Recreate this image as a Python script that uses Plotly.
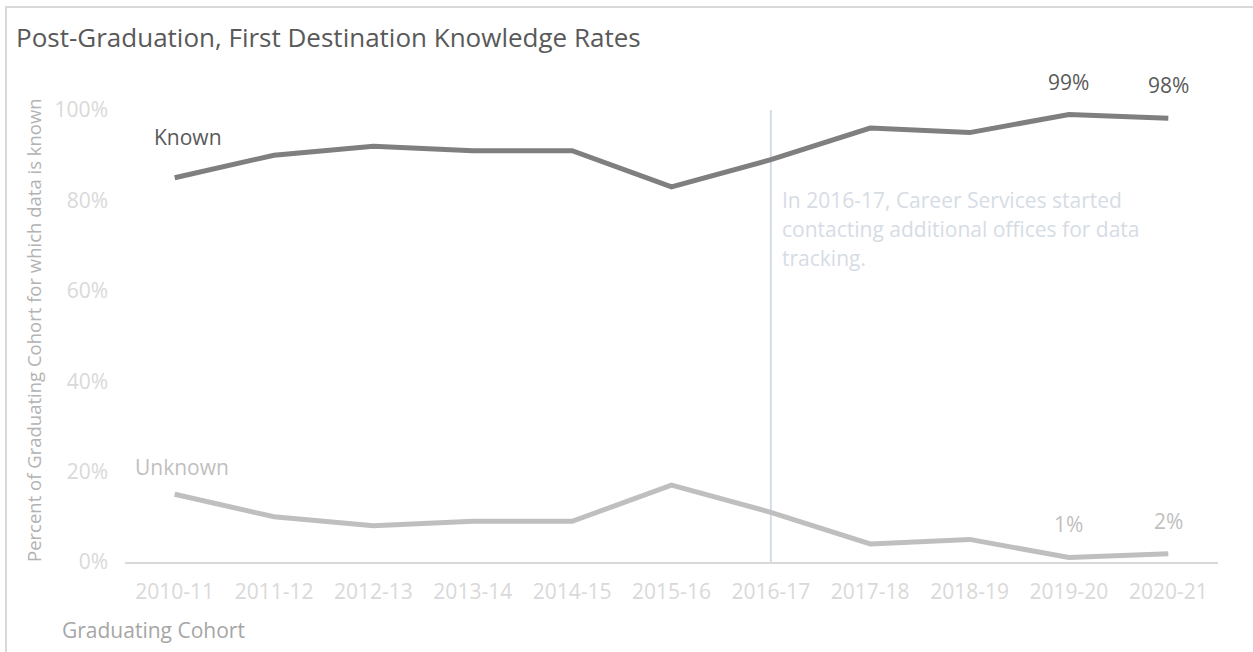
import plotly.graph_objects as go

categories = ["2010-11", "2011-12", "2012-13", "2013-14", "2014-15", "2015-16",
              "2016-17", "2017-18", "2018-19", "2019-20", "2020-21"]
known = [0.85, 0.90, 0.92, 0.91, 0.91, 0.83, 0.89, 0.96, 0.95, 0.99, 0.982]
unknown = [0.15, 0.10, 0.08, 0.09, 0.09, 0.17, 0.11, 0.04, 0.05, 0.01, 0.018]
labelled_points = [9, 10]
note_category = "2016-17"
note_lines = ["In 2016-17, Career Services started",
              "contacting additional offices for data",
              "tracking."]

FONT = "Open Sans"
W, H = 1253, 652
ML, MR, MT, MB = 125, 35, 110, 90
PW, PH = W - ML - MR, H - MT - MB


def px_x(p):
    return (p - ML) / PW


def px_y(p):
    return (H - MB - p) / PH


fig = go.Figure()
fig.add_trace(go.Scatter(x=categories, y=known, mode="lines", name="Known",
                         line=dict(color="#7f7f7f", width=5), hoverinfo="x+y"))
fig.add_trace(go.Scatter(x=categories, y=unknown, mode="lines", name="Unknown",
                         line=dict(color="#bfbfbf", width=5), hoverinfo="x+y"))

ann = []
# series labels
ann.append(dict(x=categories[0], y=known[0], text="Known", showarrow=False,
                xshift=13, yshift=41, font=dict(family=FONT, size=21, color="#595959")))
ann.append(dict(x=categories[0], y=unknown[0], text="Unknown", showarrow=False,
                xshift=7, yshift=27, font=dict(family=FONT, size=21, color="#bfbfbf")))
# data labels
for i in labelled_points:
    ann.append(dict(x=categories[i], y=known[i], text=f"{known[i]*100:.0f}%", showarrow=False,
                    yshift=33, font=dict(family=FONT, size=21, color="#595959")))
    ann.append(dict(x=categories[i], y=unknown[i], text=f"{unknown[i]*100:.0f}%", showarrow=False,
                    yshift=33, font=dict(family=FONT, size=21, color="#bfbfbf")))
# note
for k, line in enumerate(note_lines):
    ann.append(dict(x=note_category, xref="x", xanchor="left", xshift=9,
                    y=px_y(200 + 29 * k), yref="paper", yanchor="middle",
                    text=line, showarrow=False,
                    font=dict(family=FONT, size=21, color="#d6dce5")))
# title
ann.append(dict(x=px_x(14), y=px_y(37), xref="paper", yref="paper", xanchor="left",
                yanchor="middle", text="Post-Graduation, First Destination Knowledge Rates",
                showarrow=False, font=dict(family=FONT, size=26, color="#595959")))
# axis titles
ann.append(dict(x=px_x(33), y=px_y(330), xref="paper", yref="paper", textangle=-90,
                xanchor="center", yanchor="middle",
                text="Percent of Graduating Cohort for which data is known", showarrow=False,
                font=dict(family=FONT, size=18.5, color="#b3b3b3")))
ann.append(dict(x=px_x(60), y=px_y(630), xref="paper", yref="paper", xanchor="left",
                yanchor="middle", text="Graduating Cohort", showarrow=False,
                font=dict(family=FONT, size=21, color="#a6a6a6")))

shapes = [
    dict(type="line", xref="x", yref="y", x0=note_category, x1=note_category, y0=0, y1=1,
         line=dict(color="#d6dce5", width=2), layer="below"),
    dict(type="rect", xref="paper", yref="paper", x0=px_x(6), x1=px_x(1262),
         y0=px_y(662), y1=px_y(7), line=dict(color="#d9d9d9", width=2), layer="below"),
]

fig.update_layout(
    width=W, height=H,
    margin=dict(l=ML, r=MR, t=MT, b=MB),
    paper_bgcolor="white", plot_bgcolor="white",
    showlegend=False,
    annotations=ann, shapes=shapes,
    font=dict(family=FONT),
    xaxis=dict(type="category", categoryarray=categories, range=[-0.5, len(categories) - 0.5],
               showgrid=False, zeroline=False, showline=True, linecolor="#d9d9d9", linewidth=2,
               ticks="", tickfont=dict(family=FONT, size=21, color="#d9d9d9"),
               ticklabelstandoff=10),
    yaxis=dict(range=[0, 1], tickvals=[0, 0.2, 0.4, 0.6, 0.8, 1.0], tickformat=".0%",
               showgrid=False, zeroline=False, showline=False, ticks="",
               tickfont=dict(family=FONT, size=21, color="#d9d9d9"), ticklabelstandoff=16),
)

fig.write_html("out.html", config={"displayModeBar": False},
               post_script="document.body.style.margin='0';document.body.style.overflow='hidden';")
